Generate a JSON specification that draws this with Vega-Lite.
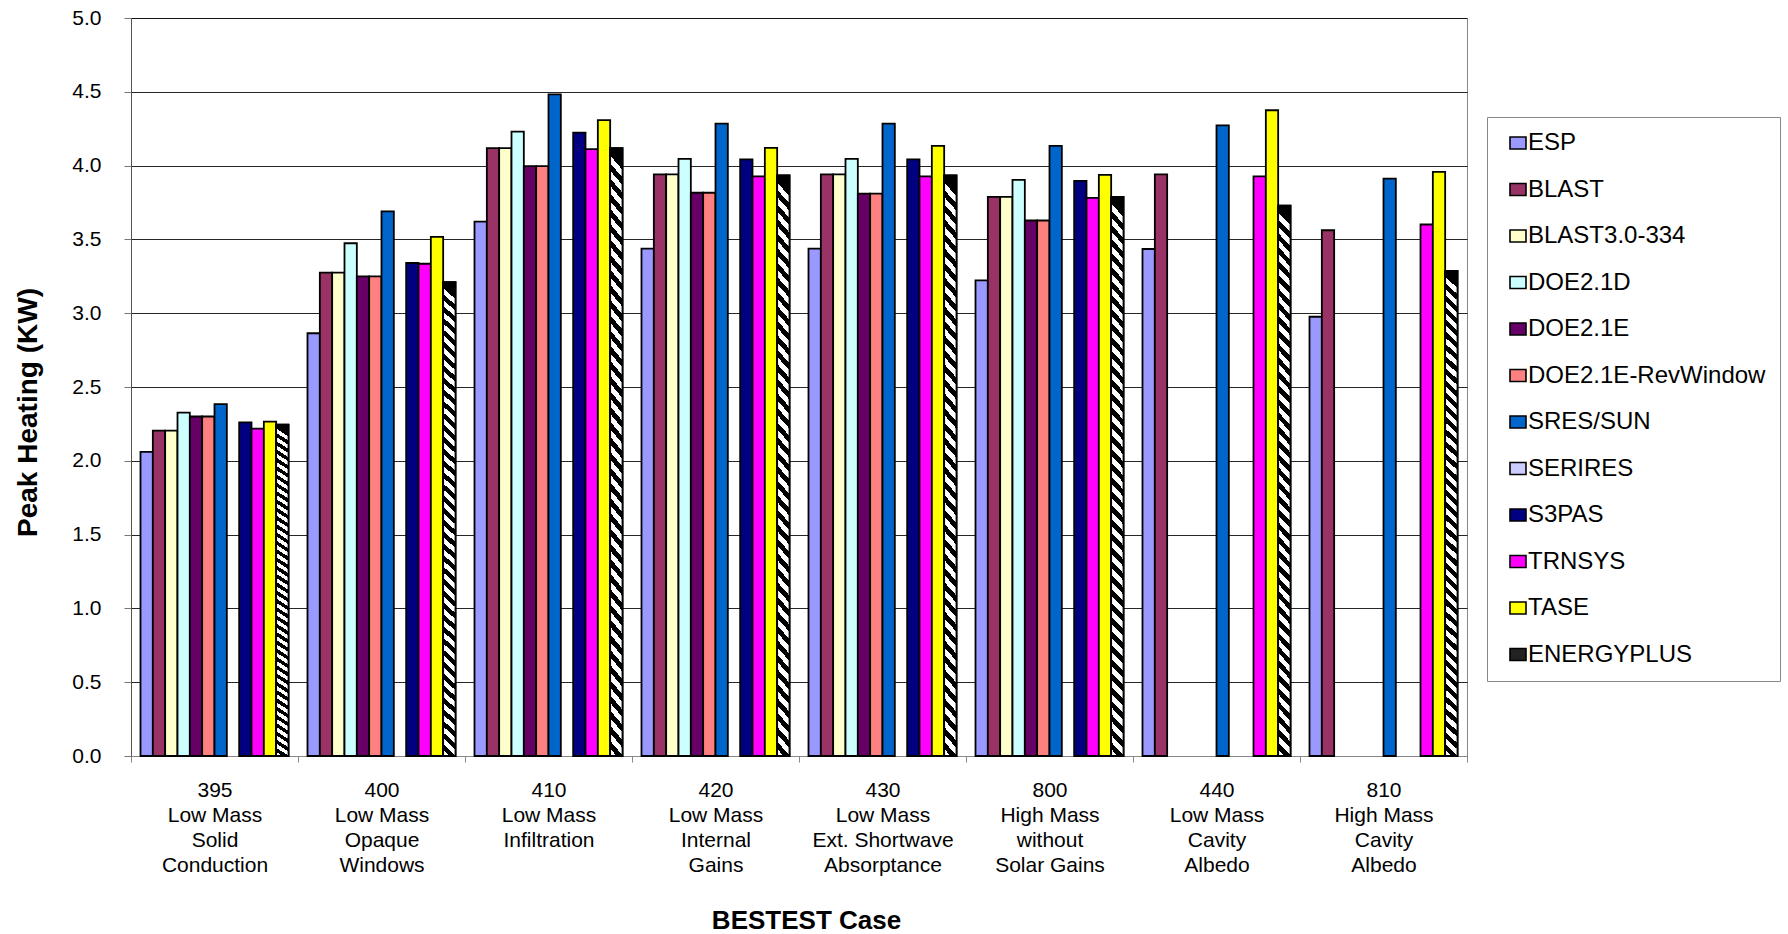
{
  "$schema": "https://vega.github.io/schema/vega-lite/v6.json",
  "autosize": {"type": "none"},
  "padding": {"left": 131, "top": 18, "right": 321, "bottom": 178},
  "width": 1336,
  "height": 738,
  "background": "white",
  "config": {
    "font": "Liberation Sans",
    "view": {"stroke": "#888888", "strokeWidth": 1},
    "axis": {"labelColor": "black", "titleColor": "black", "labelFont": "Liberation Sans", "titleFont": "Liberation Sans"}
  },
  "data": {
    "values": [
      {"case": "395|Low Mass|Solid|Conduction", "program": "ESP", "kw": 2.06},
      {"case": "395|Low Mass|Solid|Conduction", "program": "BLAST", "kw": 2.205},
      {"case": "395|Low Mass|Solid|Conduction", "program": "BLAST3.0-334", "kw": 2.205},
      {"case": "395|Low Mass|Solid|Conduction", "program": "DOE2.1D", "kw": 2.326},
      {"case": "395|Low Mass|Solid|Conduction", "program": "DOE2.1E", "kw": 2.3},
      {"case": "395|Low Mass|Solid|Conduction", "program": "DOE2.1E-RevWindow", "kw": 2.3},
      {"case": "395|Low Mass|Solid|Conduction", "program": "SRES/SUN", "kw": 2.384},
      {"case": "395|Low Mass|Solid|Conduction", "program": "S3PAS", "kw": 2.26},
      {"case": "395|Low Mass|Solid|Conduction", "program": "TRNSYS", "kw": 2.218},
      {"case": "395|Low Mass|Solid|Conduction", "program": "TASE", "kw": 2.266},
      {"case": "395|Low Mass|Solid|Conduction", "program": "ENERGYPLUS", "kw": 2.245},

      {"case": "400|Low Mass|Opaque|Windows", "program": "ESP", "kw": 2.864},
      {"case": "400|Low Mass|Opaque|Windows", "program": "BLAST", "kw": 3.275},
      {"case": "400|Low Mass|Opaque|Windows", "program": "BLAST3.0-334", "kw": 3.275},
      {"case": "400|Low Mass|Opaque|Windows", "program": "DOE2.1D", "kw": 3.474},
      {"case": "400|Low Mass|Opaque|Windows", "program": "DOE2.1E", "kw": 3.25},
      {"case": "400|Low Mass|Opaque|Windows", "program": "DOE2.1E-RevWindow", "kw": 3.25},
      {"case": "400|Low Mass|Opaque|Windows", "program": "SRES/SUN", "kw": 3.69},
      {"case": "400|Low Mass|Opaque|Windows", "program": "S3PAS", "kw": 3.34},
      {"case": "400|Low Mass|Opaque|Windows", "program": "TRNSYS", "kw": 3.335},
      {"case": "400|Low Mass|Opaque|Windows", "program": "TASE", "kw": 3.517},
      {"case": "400|Low Mass|Opaque|Windows", "program": "ENERGYPLUS", "kw": 3.21},

      {"case": "410|Low Mass|Infiltration", "program": "ESP", "kw": 3.62},
      {"case": "410|Low Mass|Infiltration", "program": "BLAST", "kw": 4.118},
      {"case": "410|Low Mass|Infiltration", "program": "BLAST3.0-334", "kw": 4.118},
      {"case": "410|Low Mass|Infiltration", "program": "DOE2.1D", "kw": 4.23},
      {"case": "410|Low Mass|Infiltration", "program": "DOE2.1E", "kw": 3.997},
      {"case": "410|Low Mass|Infiltration", "program": "DOE2.1E-RevWindow", "kw": 3.997},
      {"case": "410|Low Mass|Infiltration", "program": "SRES/SUN", "kw": 4.483},
      {"case": "410|Low Mass|Infiltration", "program": "S3PAS", "kw": 4.224},
      {"case": "410|Low Mass|Infiltration", "program": "TRNSYS", "kw": 4.112},
      {"case": "410|Low Mass|Infiltration", "program": "TASE", "kw": 4.308},
      {"case": "410|Low Mass|Infiltration", "program": "ENERGYPLUS", "kw": 4.118},

      {"case": "420|Low Mass|Internal|Gains", "program": "ESP", "kw": 3.438},
      {"case": "420|Low Mass|Internal|Gains", "program": "BLAST", "kw": 3.94},
      {"case": "420|Low Mass|Internal|Gains", "program": "BLAST3.0-334", "kw": 3.94},
      {"case": "420|Low Mass|Internal|Gains", "program": "DOE2.1D", "kw": 4.045},
      {"case": "420|Low Mass|Internal|Gains", "program": "DOE2.1E", "kw": 3.816},
      {"case": "420|Low Mass|Internal|Gains", "program": "DOE2.1E-RevWindow", "kw": 3.816},
      {"case": "420|Low Mass|Internal|Gains", "program": "SRES/SUN", "kw": 4.284},
      {"case": "420|Low Mass|Internal|Gains", "program": "S3PAS", "kw": 4.042},
      {"case": "420|Low Mass|Internal|Gains", "program": "TRNSYS", "kw": 3.927},
      {"case": "420|Low Mass|Internal|Gains", "program": "TASE", "kw": 4.12},
      {"case": "420|Low Mass|Internal|Gains", "program": "ENERGYPLUS", "kw": 3.933},

      {"case": "430|Low Mass|Ext. Shortwave|Absorptance", "program": "ESP", "kw": 3.438},
      {"case": "430|Low Mass|Ext. Shortwave|Absorptance", "program": "BLAST", "kw": 3.94},
      {"case": "430|Low Mass|Ext. Shortwave|Absorptance", "program": "BLAST3.0-334", "kw": 3.94},
      {"case": "430|Low Mass|Ext. Shortwave|Absorptance", "program": "DOE2.1D", "kw": 4.045},
      {"case": "430|Low Mass|Ext. Shortwave|Absorptance", "program": "DOE2.1E", "kw": 3.81},
      {"case": "430|Low Mass|Ext. Shortwave|Absorptance", "program": "DOE2.1E-RevWindow", "kw": 3.81},
      {"case": "430|Low Mass|Ext. Shortwave|Absorptance", "program": "SRES/SUN", "kw": 4.284},
      {"case": "430|Low Mass|Ext. Shortwave|Absorptance", "program": "S3PAS", "kw": 4.042},
      {"case": "430|Low Mass|Ext. Shortwave|Absorptance", "program": "TRNSYS", "kw": 3.927},
      {"case": "430|Low Mass|Ext. Shortwave|Absorptance", "program": "TASE", "kw": 4.133},
      {"case": "430|Low Mass|Ext. Shortwave|Absorptance", "program": "ENERGYPLUS", "kw": 3.933},

      {"case": "800|High Mass|without|Solar Gains", "program": "ESP", "kw": 3.223},
      {"case": "800|High Mass|without|Solar Gains", "program": "BLAST", "kw": 3.788},
      {"case": "800|High Mass|without|Solar Gains", "program": "BLAST3.0-334", "kw": 3.788},
      {"case": "800|High Mass|without|Solar Gains", "program": "DOE2.1D", "kw": 3.903},
      {"case": "800|High Mass|without|Solar Gains", "program": "DOE2.1E", "kw": 3.628},
      {"case": "800|High Mass|without|Solar Gains", "program": "DOE2.1E-RevWindow", "kw": 3.628},
      {"case": "800|High Mass|without|Solar Gains", "program": "SRES/SUN", "kw": 4.133},
      {"case": "800|High Mass|without|Solar Gains", "program": "S3PAS", "kw": 3.897},
      {"case": "800|High Mass|without|Solar Gains", "program": "TRNSYS", "kw": 3.782},
      {"case": "800|High Mass|without|Solar Gains", "program": "TASE", "kw": 3.937},
      {"case": "800|High Mass|without|Solar Gains", "program": "ENERGYPLUS", "kw": 3.788},

      {"case": "440|Low Mass|Cavity|Albedo", "program": "ESP", "kw": 3.435},
      {"case": "440|Low Mass|Cavity|Albedo", "program": "BLAST", "kw": 3.94},
      {"case": "440|Low Mass|Cavity|Albedo", "program": "SRES/SUN", "kw": 4.272},
      {"case": "440|Low Mass|Cavity|Albedo", "program": "TRNSYS", "kw": 3.927},
      {"case": "440|Low Mass|Cavity|Albedo", "program": "TASE", "kw": 4.375},
      {"case": "440|Low Mass|Cavity|Albedo", "program": "ENERGYPLUS", "kw": 3.728},

      {"case": "810|High Mass|Cavity|Albedo", "program": "ESP", "kw": 2.976},
      {"case": "810|High Mass|Cavity|Albedo", "program": "BLAST", "kw": 3.562},
      {"case": "810|High Mass|Cavity|Albedo", "program": "SRES/SUN", "kw": 3.912},
      {"case": "810|High Mass|Cavity|Albedo", "program": "TRNSYS", "kw": 3.601},
      {"case": "810|High Mass|Cavity|Albedo", "program": "TASE", "kw": 3.958},
      {"case": "810|High Mass|Cavity|Albedo", "program": "ENERGYPLUS", "kw": 3.287}
    ]
  },
  "encoding": {
    "x": {
      "field": "case",
      "type": "nominal",
      "scale": {
        "domain": ["395|Low Mass|Solid|Conduction", "400|Low Mass|Opaque|Windows", "410|Low Mass|Infiltration", "420|Low Mass|Internal|Gains", "430|Low Mass|Ext. Shortwave|Absorptance", "800|High Mass|without|Solar Gains", "440|Low Mass|Cavity|Albedo", "810|High Mass|Cavity|Albedo"],
        "paddingInner": 0,
        "paddingOuter": 0
      },
      "axis": {
        "title": "BESTEST Case",
        "titleFontSize": 26,
        "titleFontWeight": "bold",
        "titleX": 675,
        "titleY": 172,
        "titleAlign": "center",
        "titleBaseline": "alphabetic",
        "labelExpr": "split(datum.label, '|')",
        "labelAngle": 0,
        "labelFontSize": 21,
        "labelLineHeight": 25,
        "labelBaseline": "top",
        "labelPadding": 17.5,
        "labelLimit": 300,
        "tickBand": "extent",
        "tickSize": 6,
        "tickColor": "#888888",
        "domainColor": "#888888",
        "grid": false
      }
    },
    "xOffset": {
      "field": "program",
      "type": "nominal",
      "scale": {
        "domain": ["ESP", "BLAST", "BLAST3.0-334", "DOE2.1D", "DOE2.1E", "DOE2.1E-RevWindow", "SRES/SUN", "SERIRES", "S3PAS", "TRNSYS", "TASE", "ENERGYPLUS"],
        "paddingInner": 0,
        "paddingOuter": 0.77
      }
    },
    "y": {
      "field": "kw",
      "type": "quantitative",
      "scale": {"domain": [0, 5], "nice": false},
      "axis": {
        "title": "Peak Heating (KW)",
        "titleFontSize": 28,
        "titleFontWeight": "bold",
        "titleX": -103,
        "titleY": 394,
        "titleAngle": -90,
        "titleAlign": "center",
        "titleBaseline": "middle",
        "values": [0, 0.5, 1, 1.5, 2, 2.5, 3, 3.5, 4, 4.5, 5],
        "format": ".1f",
        "labelFontSize": 21,
        "labelPadding": 23,
        "tickSize": 7,
        "tickColor": "#777777",
        "domainColor": "#555555",
        "gridColor": "#000000",
        "gridOpacity": 0.85,
        "gridWidth": 1
      }
    }
  },
  "layer": [
    {
      "mark": {"type": "bar", "stroke": "black", "strokeWidth": 1.8},
      "encoding": {
        "color": {
          "field": "program",
          "type": "nominal",
          "scale": {
            "domain": ["ESP", "BLAST", "BLAST3.0-334", "DOE2.1D", "DOE2.1E", "DOE2.1E-RevWindow", "SRES/SUN", "SERIRES", "S3PAS", "TRNSYS", "TASE", "ENERGYPLUS"],
            "range": ["#9999FF", "#993366", "#FFFFCC", "#CCFFFF", "#660066", "#FF8080", "#0066CC", "#CCCCFF", "#000080", "#FF00FF", "#FFFF00", "#222222"]
          },
          "legend": {
            "title": null,
            "orient": "none",
            "legendX": 1356,
            "legendY": 99,
            "padding": 14,
            "symbolOffset": 5,
            "strokeColor": "#888888",
            "fillColor": "white",
            "labelFontSize": 24,
            "labelFont": "Liberation Sans",
            "labelColor": "black",
            "labelLimit": 400,
            "labelOffset": -2,
            "labelExpr": "datum.label + '\u00a0\u00a0\u00a0'",
            "rowPadding": 22.5,
            "symbolType": "M-1,-0.75H1V0.75H-1Z",
            "symbolSize": 256,
            "symbolStrokeColor": "black",
            "symbolStrokeWidth": 1.6,
            "symbolOpacity": 1
          }
        }
      }
    },
    {
      "transform": [{"filter": "datum.program === 'ENERGYPLUS'"}],
      "mark": {
        "type": "bar",
        "stroke": "black",
        "strokeWidth": 1.8,
        "fill": {
          "gradient": "linear",
          "x1": 0.024, "y1": 0, "x2": 0, "y2": 1,
          "stops": [
            {"offset": 0, "color": "#000"}, {"offset": 0.0125, "color": "#000"}, {"offset": 0.0125, "color": "#fff"}, {"offset": 0.025, "color": "#fff"},
            {"offset": 0.025, "color": "#000"}, {"offset": 0.0375, "color": "#000"}, {"offset": 0.0375, "color": "#fff"}, {"offset": 0.05, "color": "#fff"},
            {"offset": 0.05, "color": "#000"}, {"offset": 0.0625, "color": "#000"}, {"offset": 0.0625, "color": "#fff"}, {"offset": 0.075, "color": "#fff"},
            {"offset": 0.075, "color": "#000"}, {"offset": 0.0875, "color": "#000"}, {"offset": 0.0875, "color": "#fff"}, {"offset": 0.1, "color": "#fff"},
            {"offset": 0.1, "color": "#000"}, {"offset": 0.1125, "color": "#000"}, {"offset": 0.1125, "color": "#fff"}, {"offset": 0.125, "color": "#fff"},
            {"offset": 0.125, "color": "#000"}, {"offset": 0.1375, "color": "#000"}, {"offset": 0.1375, "color": "#fff"}, {"offset": 0.15, "color": "#fff"},
            {"offset": 0.15, "color": "#000"}, {"offset": 0.1625, "color": "#000"}, {"offset": 0.1625, "color": "#fff"}, {"offset": 0.175, "color": "#fff"},
            {"offset": 0.175, "color": "#000"}, {"offset": 0.1875, "color": "#000"}, {"offset": 0.1875, "color": "#fff"}, {"offset": 0.2, "color": "#fff"},
            {"offset": 0.2, "color": "#000"}, {"offset": 0.2125, "color": "#000"}, {"offset": 0.2125, "color": "#fff"}, {"offset": 0.225, "color": "#fff"},
            {"offset": 0.225, "color": "#000"}, {"offset": 0.2375, "color": "#000"}, {"offset": 0.2375, "color": "#fff"}, {"offset": 0.25, "color": "#fff"},
            {"offset": 0.25, "color": "#000"}, {"offset": 0.2625, "color": "#000"}, {"offset": 0.2625, "color": "#fff"}, {"offset": 0.275, "color": "#fff"},
            {"offset": 0.275, "color": "#000"}, {"offset": 0.2875, "color": "#000"}, {"offset": 0.2875, "color": "#fff"}, {"offset": 0.3, "color": "#fff"},
            {"offset": 0.3, "color": "#000"}, {"offset": 0.3125, "color": "#000"}, {"offset": 0.3125, "color": "#fff"}, {"offset": 0.325, "color": "#fff"},
            {"offset": 0.325, "color": "#000"}, {"offset": 0.3375, "color": "#000"}, {"offset": 0.3375, "color": "#fff"}, {"offset": 0.35, "color": "#fff"},
            {"offset": 0.35, "color": "#000"}, {"offset": 0.3625, "color": "#000"}, {"offset": 0.3625, "color": "#fff"}, {"offset": 0.375, "color": "#fff"},
            {"offset": 0.375, "color": "#000"}, {"offset": 0.3875, "color": "#000"}, {"offset": 0.3875, "color": "#fff"}, {"offset": 0.4, "color": "#fff"},
            {"offset": 0.4, "color": "#000"}, {"offset": 0.4125, "color": "#000"}, {"offset": 0.4125, "color": "#fff"}, {"offset": 0.425, "color": "#fff"},
            {"offset": 0.425, "color": "#000"}, {"offset": 0.4375, "color": "#000"}, {"offset": 0.4375, "color": "#fff"}, {"offset": 0.45, "color": "#fff"},
            {"offset": 0.45, "color": "#000"}, {"offset": 0.4625, "color": "#000"}, {"offset": 0.4625, "color": "#fff"}, {"offset": 0.475, "color": "#fff"},
            {"offset": 0.475, "color": "#000"}, {"offset": 0.4875, "color": "#000"}, {"offset": 0.4875, "color": "#fff"}, {"offset": 0.5, "color": "#fff"},
            {"offset": 0.5, "color": "#000"}, {"offset": 0.5125, "color": "#000"}, {"offset": 0.5125, "color": "#fff"}, {"offset": 0.525, "color": "#fff"},
            {"offset": 0.525, "color": "#000"}, {"offset": 0.5375, "color": "#000"}, {"offset": 0.5375, "color": "#fff"}, {"offset": 0.55, "color": "#fff"},
            {"offset": 0.55, "color": "#000"}, {"offset": 0.5625, "color": "#000"}, {"offset": 0.5625, "color": "#fff"}, {"offset": 0.575, "color": "#fff"},
            {"offset": 0.575, "color": "#000"}, {"offset": 0.5875, "color": "#000"}, {"offset": 0.5875, "color": "#fff"}, {"offset": 0.6, "color": "#fff"},
            {"offset": 0.6, "color": "#000"}, {"offset": 0.6125, "color": "#000"}, {"offset": 0.6125, "color": "#fff"}, {"offset": 0.625, "color": "#fff"},
            {"offset": 0.625, "color": "#000"}, {"offset": 0.6375, "color": "#000"}, {"offset": 0.6375, "color": "#fff"}, {"offset": 0.65, "color": "#fff"},
            {"offset": 0.65, "color": "#000"}, {"offset": 0.6625, "color": "#000"}, {"offset": 0.6625, "color": "#fff"}, {"offset": 0.675, "color": "#fff"},
            {"offset": 0.675, "color": "#000"}, {"offset": 0.6875, "color": "#000"}, {"offset": 0.6875, "color": "#fff"}, {"offset": 0.7, "color": "#fff"},
            {"offset": 0.7, "color": "#000"}, {"offset": 0.7125, "color": "#000"}, {"offset": 0.7125, "color": "#fff"}, {"offset": 0.725, "color": "#fff"},
            {"offset": 0.725, "color": "#000"}, {"offset": 0.7375, "color": "#000"}, {"offset": 0.7375, "color": "#fff"}, {"offset": 0.75, "color": "#fff"},
            {"offset": 0.75, "color": "#000"}, {"offset": 0.7625, "color": "#000"}, {"offset": 0.7625, "color": "#fff"}, {"offset": 0.775, "color": "#fff"},
            {"offset": 0.775, "color": "#000"}, {"offset": 0.7875, "color": "#000"}, {"offset": 0.7875, "color": "#fff"}, {"offset": 0.8, "color": "#fff"},
            {"offset": 0.8, "color": "#000"}, {"offset": 0.8125, "color": "#000"}, {"offset": 0.8125, "color": "#fff"}, {"offset": 0.825, "color": "#fff"},
            {"offset": 0.825, "color": "#000"}, {"offset": 0.8375, "color": "#000"}, {"offset": 0.8375, "color": "#fff"}, {"offset": 0.85, "color": "#fff"},
            {"offset": 0.85, "color": "#000"}, {"offset": 0.8625, "color": "#000"}, {"offset": 0.8625, "color": "#fff"}, {"offset": 0.875, "color": "#fff"},
            {"offset": 0.875, "color": "#000"}, {"offset": 0.8875, "color": "#000"}, {"offset": 0.8875, "color": "#fff"}, {"offset": 0.9, "color": "#fff"},
            {"offset": 0.9, "color": "#000"}, {"offset": 0.9125, "color": "#000"}, {"offset": 0.9125, "color": "#fff"}, {"offset": 0.925, "color": "#fff"},
            {"offset": 0.925, "color": "#000"}, {"offset": 0.9375, "color": "#000"}, {"offset": 0.9375, "color": "#fff"}, {"offset": 0.95, "color": "#fff"},
            {"offset": 0.95, "color": "#000"}, {"offset": 0.9625, "color": "#000"}, {"offset": 0.9625, "color": "#fff"}, {"offset": 0.975, "color": "#fff"},
            {"offset": 0.975, "color": "#000"}, {"offset": 0.9875, "color": "#000"}, {"offset": 0.9875, "color": "#fff"}, {"offset": 1, "color": "#fff"}
          ]
        }
      }
    }
  ]
}
